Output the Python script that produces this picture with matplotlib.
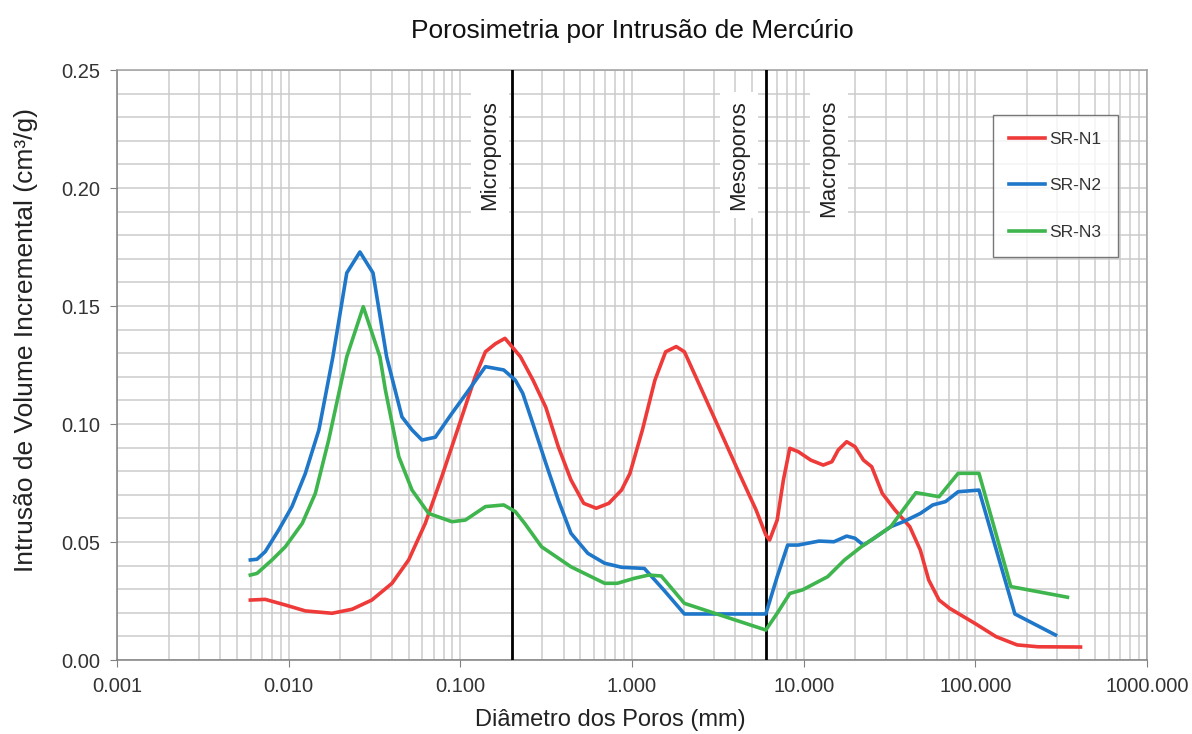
import matplotlib
matplotlib.use("Agg")
import matplotlib.pyplot as plt
from matplotlib.ticker import FixedLocator, FixedFormatter, LogLocator, MultipleLocator, NullFormatter

plt.rcParams['font.family'] = ['Liberation Sans', 'DejaVu Sans']

title = "Porosimetria por Intrusão de Mercúrio"
xlabel = "Diâmetro dos Poros (mm)"
ylabel = "Intrusão de Volume Incremental (cm³/g)"

# SR-N1 (red)
n1_x = [0.00598, 0.0073, 0.00957, 0.0125, 0.0179, 0.0234, 0.0305, 0.040, 0.050, 0.0625,
        0.078, 0.0977, 0.122, 0.140, 0.160, 0.182, 0.224, 0.265, 0.315, 0.372, 0.441,
        0.523, 0.619, 0.733, 0.869, 0.972, 1.15, 1.36, 1.57, 1.81, 2.02, 2.40, 3.18, 4.22,
        5.28, 6.02, 6.33, 7.01, 7.62, 8.30, 9.29, 11.0, 13.0, 14.6, 15.9, 17.8, 19.9, 22.3,
        24.9, 28.7, 34.0, 41.5, 47.8, 53.5, 61.5, 70.8, 99.5, 132, 175, 232, 410]
n1_y = [0.0254, 0.0257, 0.0233, 0.0208, 0.0198, 0.0215, 0.0254, 0.0325, 0.0424, 0.0579,
        0.0777, 0.0989, 0.120, 0.1306, 0.134, 0.1363, 0.1285, 0.1186, 0.107, 0.0904, 0.0763,
        0.0664, 0.0643, 0.0664, 0.072, 0.079, 0.0975, 0.1186, 0.1306, 0.1328, 0.1306, 0.1186,
        0.0989, 0.079, 0.0636, 0.053, 0.0508, 0.0593, 0.0763, 0.0897, 0.0883, 0.0847, 0.0826,
        0.084, 0.089, 0.0925, 0.0904, 0.0847, 0.0819, 0.0706, 0.0636, 0.0565, 0.0466, 0.0339,
        0.0254, 0.0219, 0.0155, 0.0099, 0.0064, 0.0056, 0.0055]

# SR-N2 (blue)
n2_x = [0.00598, 0.00654, 0.0073, 0.00875, 0.01045, 0.0125, 0.0150, 0.0181, 0.0218, 0.026,
        0.031, 0.0372, 0.0457, 0.0523, 0.0598, 0.0715, 0.0893, 0.112, 0.140, 0.179, 0.209,
        0.231, 0.265, 0.315, 0.372, 0.441, 0.553, 0.693, 0.869, 1.18, 1.53, 2.02, 6.02,
        7.01, 8.07, 9.29, 12.3, 15.0, 17.8, 19.9, 22.3, 25.7, 32.2, 38.1, 47.8, 56.5, 67.0,
        79.4, 105, 170, 293]
n2_y = [0.0424, 0.0427, 0.0459, 0.0551, 0.065, 0.079, 0.0975, 0.1285, 0.164, 0.1729,
        0.164, 0.1285, 0.103, 0.0975, 0.0932, 0.0944, 0.1045, 0.1144, 0.1243, 0.1229, 0.1186,
        0.113, 0.100, 0.0833, 0.0678, 0.0537, 0.0452, 0.041, 0.0393, 0.0388, 0.0297, 0.0195,
        0.0195, 0.0353, 0.0487, 0.0487, 0.0504, 0.0501, 0.0525, 0.0516, 0.0487, 0.0516,
        0.0565, 0.0586, 0.0621, 0.0657, 0.0671, 0.0713, 0.072, 0.0195, 0.0106]

# SR-N3 (green)
n3_x = [0.00598, 0.00654, 0.0080, 0.00957, 0.012, 0.0143, 0.0171, 0.0218, 0.0272, 0.034,
        0.0366, 0.0438, 0.0523, 0.0654, 0.0893, 0.107, 0.140, 0.179, 0.209, 0.237, 0.297,
        0.441, 0.693, 0.821, 1.03, 1.25, 1.48, 2.02, 6.02, 7.01, 8.30, 9.84, 13.8, 17.3,
        21.7, 25.7, 32.2, 39.2, 45.1, 61.5, 79.4, 105, 161, 344]
n3_y = [0.036, 0.0367, 0.0424, 0.048, 0.0579, 0.0706, 0.0932, 0.1285, 0.1497, 0.1285,
        0.1144, 0.0862, 0.072, 0.0621, 0.0586, 0.0593, 0.065, 0.0657, 0.0629, 0.0579, 0.048,
        0.0395, 0.0325, 0.0325, 0.0346, 0.036, 0.0356, 0.024, 0.0127, 0.0198, 0.0282, 0.0297,
        0.0353, 0.0424, 0.048, 0.0516, 0.0565, 0.065, 0.0709, 0.0692, 0.0791, 0.0791, 0.0311,
        0.0266]

series_names = ["SR-N1", "SR-N2", "SR-N3"]
series_colors = ["#ee3a38", "#1f77c9", "#3fb54e"]

boundaries = [0.2, 6.0]
region_labels = ["Microporos", "Mesoporos", "Macroporos"]
region_label_x = [0.149, 4.2, 14.0]

x_ticks = [0.001, 0.01, 0.1, 1, 10, 100, 1000]
x_tick_labels = ["0.001", "0.010", "0.100", "1.000", "10.000", "100.000", "1000.000"]
y_ticks = [0.00, 0.05, 0.10, 0.15, 0.20, 0.25]
y_tick_labels = ["0.00", "0.05", "0.10", "0.15", "0.20", "0.25"]

fig = plt.figure(figsize=(11.92, 7.34), dpi=100)
ax = fig.add_axes([117/1192, 74/734, 1030/1192, 590/734])

ax.set_xscale('log')
ax.set_xlim(0.001, 1000)
ax.set_ylim(0, 0.25)

ax.xaxis.set_major_locator(FixedLocator(x_ticks))
ax.xaxis.set_major_formatter(FixedFormatter(x_tick_labels))
ax.xaxis.set_minor_locator(LogLocator(base=10, subs=range(2, 10), numticks=20))
ax.xaxis.set_minor_formatter(NullFormatter())
ax.yaxis.set_major_locator(FixedLocator(y_ticks))
ax.yaxis.set_major_formatter(FixedFormatter(y_tick_labels))
ax.yaxis.set_minor_locator(MultipleLocator(0.01))

grid_c = "#cbcbcb"
ax.grid(True, which='major', axis='both', color=grid_c, lw=1.1, zorder=0)
ax.grid(True, which='minor', axis='both', color=grid_c, lw=1.1, zorder=0)
ax.set_axisbelow(True)

for s in ax.spines.values():
    s.set_color("#a0a0a0")
    s.set_linewidth(1.1)
ax.spines['left'].set_color("#808080")
ax.spines['bottom'].set_color("#808080")

ax.tick_params(axis='both', which='major', length=5, color="#808080", labelsize=14.5,
               labelcolor="#333333", pad=7)
ax.tick_params(axis='both', which='minor', length=0)

for xv in boundaries:
    ax.axvline(xv, color='black', lw=2, zorder=4)

for lbl, xv in zip(region_labels, region_label_x):
    ax.text(xv, 0.2373, lbl, rotation=90, ha='center', va='top', fontsize=16,
            color="#222222", zorder=3,
            bbox=dict(facecolor='white', edgecolor='none', pad=6))

xs = [n1_x, n2_x, n3_x]
ys = [n1_y, n2_y, n3_y]
for x, y, name, c in zip(xs, ys, series_names, series_colors):
    ax.plot(x, y, color=c, lw=2.6, label=name, zorder=5, solid_joinstyle='round')

leg = ax.legend(loc='upper left', bbox_to_anchor=((993-117)/1030, (660-115)/590),
                frameon=True, fancybox=False, fontsize=12.5, labelspacing=1.82,
                handlelength=2.07, handletextpad=0.2, borderpad=0.95, borderaxespad=0)
leg.get_frame().set_edgecolor("#555555")
leg.get_frame().set_linewidth(1.0)
for t in leg.get_texts():
    t.set_color("#333333")

ax.set_title(title, fontsize=19, pad=23, color="#111111")
ax.set_xlabel(xlabel, fontsize=17, color="#222222")
ax.set_ylabel(ylabel, fontsize=19, color="#222222")
ax.xaxis.set_label_coords((610-117)/1030, (660-709)/590)
ax.yaxis.set_label_coords((38-117)/1030, (660-340)/590)

fig.savefig("out.png", dpi=100)
